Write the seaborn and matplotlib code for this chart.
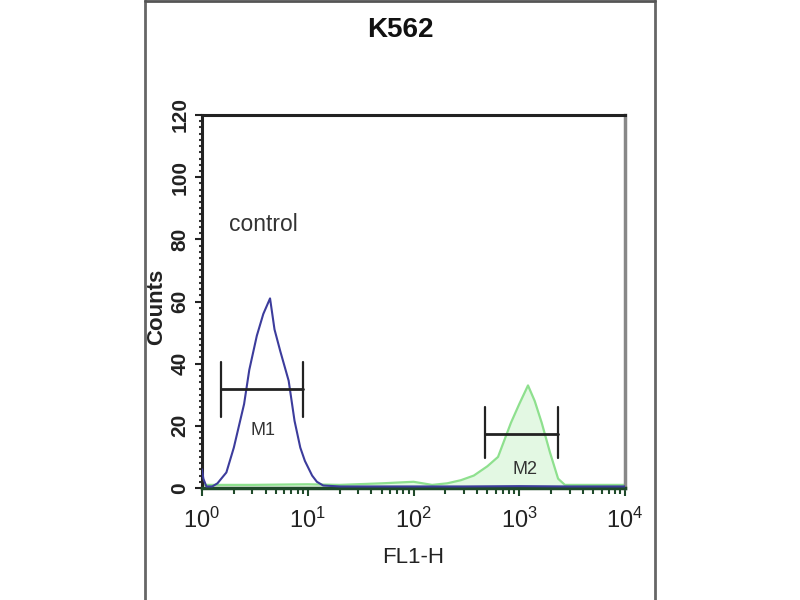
import numpy as np
import pandas as pd
import seaborn as sns
import matplotlib
matplotlib.use("Agg")
import matplotlib.pyplot as plt
from matplotlib import font_manager
from matplotlib.lines import Line2D
from matplotlib.ticker import FixedLocator, FixedFormatter, MultipleLocator, LogLocator, NullFormatter

# ---------------- data ----------------
title = "K562"
x_label = "FL1-H"
y_label = "Counts"

control_x = [1.0, 1.03, 1.1, 1.25, 1.4, 1.7, 2.0, 2.5, 2.8, 3.3, 3.8, 4.4, 4.85, 5.5,
             6.6, 7.5, 8.5, 9.4, 11, 12.2, 14, 20, 40, 100, 300, 1000, 3000, 10000]
control_counts = [6, 3, 0.5, 0.5, 1.5, 5, 13, 27, 38, 49, 56, 61, 51, 44,
                  34.5, 21.6, 13, 8.7, 4, 2, 0.8, 0.5, 0.5, 0.5, 0.5, 0.6, 0.5, 0.5]

sample_x = [1, 3, 10, 20, 50, 100, 150, 208, 280, 372, 500, 630, 835, 1000,
            1210, 1400, 1630, 1950, 2330, 2700, 4000, 10000]
sample_counts = [1, 1, 1.2, 1, 1.5, 2, 1, 1.5, 2.5, 4, 7, 10, 21, 27,
                 33, 28, 21, 11.5, 3, 1, 1, 1]

marker_names = ["M1", "M2"]
marker_left = [1.51, 475]
marker_right = [9.02, 2325]
marker_level = [31.7, 17.5]
marker_cap_low = [23, 9.5]
marker_cap_high = [40.5, 26]
marker_label_x = [3.77, 1130]
marker_label_y = [18.4, 6]

control_text = "control"
control_text_pos = (3.77, 84.8)

x_ticks = [1, 10, 100, 1000, 10000]
x_tick_labels = ["0", "1", "2", "3", "4"]
y_ticks = [0, 20, 40, 60, 80, 100, 120]
y_tick_labels = ["0", "20", "40", "60", "80", "100", "120"]

# ---------------- style ----------------
sns.set_style("white")
names = {f.name for f in font_manager.fontManager.ttflist}
narrow = "Liberation Sans Narrow" if "Liberation Sans Narrow" in names else "Liberation Sans"
plt.rcParams["font.family"] = [narrow, "DejaVu Sans"]
plt.rcParams["mathtext.fontset"] = "custom"
plt.rcParams["mathtext.rm"] = narrow
plt.rcParams["mathtext.it"] = narrow

fig = plt.figure(figsize=(8, 6), dpi=100)
ax = fig.add_axes([202 / 800, 1 - 488 / 600, (625 - 202) / 800, (488 - 115) / 600])

df_c = pd.DataFrame({"x": control_x, "y": control_counts})
df_s = pd.DataFrame({"x": sample_x, "y": sample_counts})

ax.fill_between(df_s["x"], 0, df_s["y"], color="#e3f8e3", lw=0, zorder=1)
sns.lineplot(data=df_s, x="x", y="y", ax=ax, color="#8ee08e", lw=1.6, zorder=2,
             estimator=None, sort=False)
sns.lineplot(data=df_c, x="x", y="y", ax=ax, color="#3c3c9c", lw=1.5, zorder=3,
             estimator=None, sort=False)

ax.set_xscale("log")
ax.set_xlim(1, 10000)
ax.set_ylim(0, 120)

# gate markers
for i in range(len(marker_names)):
    ax.plot([marker_left[i], marker_right[i]], [marker_level[i]] * 2, color="#222222", lw=2, zorder=4)
    for xx in (marker_left[i], marker_right[i]):
        ax.plot([xx, xx], [marker_cap_low[i], marker_cap_high[i]], color="#222222", lw=1.6, zorder=4)
    ax.text(marker_label_x[i], marker_label_y[i], marker_names[i], ha="center", va="center",
            fontsize=13, color="#333333", zorder=5)

ax.text(control_text_pos[0], control_text_pos[1], control_text, ha="center", va="center",
        fontsize=16.5, color="#333333")

# ticks
ax.xaxis.set_major_locator(FixedLocator(x_ticks))
ax.xaxis.set_major_formatter(FixedFormatter([r"$\mathregular{10^{%s}}$" % s for s in x_tick_labels]))
ax.xaxis.set_minor_locator(LogLocator(base=10, subs=np.arange(2, 10)))
ax.xaxis.set_minor_formatter(NullFormatter())
ax.yaxis.set_major_locator(FixedLocator(y_ticks))
ax.yaxis.set_major_formatter(FixedFormatter(y_tick_labels))
ax.yaxis.set_minor_locator(MultipleLocator(2))

ax.tick_params(axis="x", which="both", bottom=True, top=False)
ax.tick_params(axis="y", which="both", left=True, right=False)
ax.tick_params(axis="x", which="major", direction="out", length=6, width=1.5, color="#1f4a2a",
               labelsize=17, pad=8, labelcolor="#222222")
ax.tick_params(axis="x", which="minor", direction="out", length=4, width=1.5, color="#1f4a2a")
ax.tick_params(axis="y", which="major", direction="out", length=5, width=1.5, color="#222222",
               labelsize=15, pad=4, labelcolor="#222222", labelrotation=90)
ax.tick_params(axis="y", which="minor", direction="out", length=2.5, width=1.5, color="#333333")
for lbl in ax.get_yticklabels():
    lbl.set_va("center")
    lbl.set_fontweight("bold")
    lbl.set_family(["Liberation Sans", "DejaVu Sans"])

for side in ["top", "left"]:
    ax.spines[side].set_color("#222222")
    ax.spines[side].set_linewidth(2.2)
ax.spines["left"].set_linestyle((0, (1, 1)))
ax.spines["bottom"].set_color("#1f4a2a")
ax.spines["bottom"].set_linewidth(2.5)
ax.spines["right"].set_color("#888888")
ax.spines["right"].set_linewidth(2.5)

ax.set_xlabel(x_label, fontsize=16, color="#222222", labelpad=10)
ax.set_ylabel(y_label, fontsize=16, fontweight="bold", color="#222222", labelpad=2,
              family=["Liberation Sans", "DejaVu Sans"])
ax.yaxis.set_label_coords((167 - 202) / 423, (488 - 307) / 373)

fig.text(0.5, 1 - 30 / 600, title, ha="center", va="center", fontsize=20, fontweight="bold",
         family=["Liberation Sans", "DejaVu Sans"], color="#111111")

# outer frame of the panel
for xf in (145 / 800, 655 / 800):
    fig.add_artist(Line2D([xf, xf], [0, 1], transform=fig.transFigure, color="#666666", lw=2))
fig.add_artist(Line2D([145 / 800, 655 / 800], [0.998, 0.998], transform=fig.transFigure,
                      color="#555555", lw=2))

fig.savefig("out.png", dpi=100)
